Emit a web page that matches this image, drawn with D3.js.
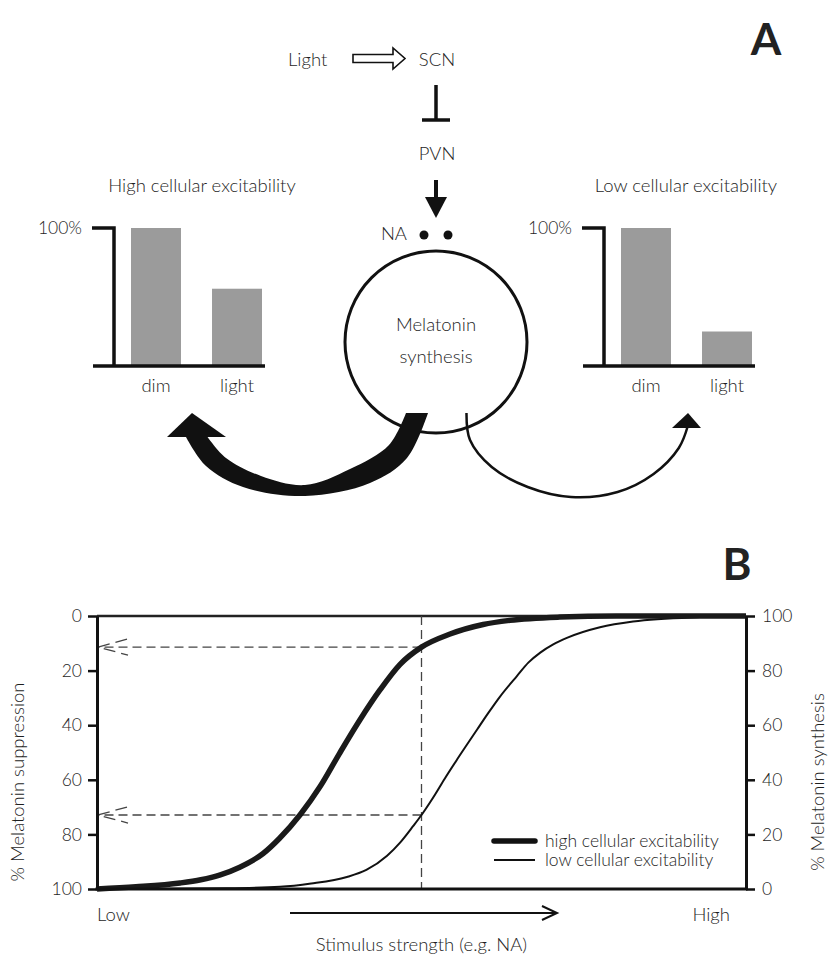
<!DOCTYPE html>
<html>
<head>
<meta charset="utf-8">
<script src="https://cdn.jsdelivr.net/npm/d3@7"></script>
<style>
  html, body { margin: 0; padding: 0; background: #fff; }
  svg { display: block; font-family: Lato, "Open Sans", sans-serif; font-weight: 300; }
  text { fill: #1e1e1e; }
</style>
</head>
<body>
<svg id="fig" width="830" height="960"></svg>
<script>
// ---- Panel A: relative melatonin synthesis in dim vs light ----
const barCategories = ["dim", "light"];
const highExcitabilityBars = [100, 56];
const lowExcitabilityBars = [100, 25];
const barTopLabel = "100%";

// ---- Panel B: dose-response curves (stimulus 0..100, synthesis %) ----
const highStimulus = [0, 6, 12.8, 16, 19, 22, 25.6, 28.1, 31.3, 34.4, 37.4, 40.5, 43.6, 46.7, 50, 54.4, 59.5, 63.6, 71.3, 80, 100];
const highSynthesis = [0, 0.8, 2.2, 3.4, 5.2, 8.0, 13.0, 18.5, 27.2, 37.6, 49.8, 61.9, 72.9, 82.3, 88.6, 93.4, 96.9, 98.4, 99.6, 100, 100];
const lowStimulus = [0, 20, 28.2, 33, 38.5, 41.5, 44.7, 46.7, 48.7, 50, 51.8, 53.6, 55.5, 58.6, 60.3, 62.1, 64.7, 66.5, 68.3, 70.3, 72.4, 77.5, 82.6, 92.9, 100];
const lowSynthesis = [0, 0.3, 0.8, 2.0, 4.4, 7.0, 12.2, 17.0, 23.0, 27.1, 33.5, 40.5, 47.5, 58.5, 64.5, 70.5, 78.0, 83.0, 86.6, 89.6, 92.0, 95.9, 98.0, 99.6, 100];
const percentTicks = [0, 20, 40, 60, 80, 100];
const markerStimulus = 50;
const legendLabels = ["high cellular excitability", "low cellular excitability"];

const svg = d3.select("#fig");
const ink = "#111";
const fs = "18.5px";

// ================= Panel A =================
svg.append("text").attr("x", 766).attr("y", 55).attr("text-anchor", "middle")
  .style("font-size", "44px").style("font-weight", 700).style("fill", "#222").text("A");

const cx = 436, cy = 342, r = 91;

// Light => SCN
svg.append("text").attr("x", 288).attr("y", 66).style("font-size", fs).text("Light");
svg.append("text").attr("x", 437).attr("y", 66).attr("text-anchor", "middle").style("font-size", fs).text("SCN");
const hollow = d3.path();
hollow.moveTo(353, 54.5); hollow.lineTo(393, 54.5); hollow.lineTo(393, 48);
hollow.lineTo(405, 58.5); hollow.lineTo(393, 69); hollow.lineTo(393, 62.5);
hollow.lineTo(353, 62.5); hollow.closePath();
svg.append("path").attr("d", hollow.toString()).attr("fill", "#fff")
  .attr("stroke", ink).attr("stroke-width", 1.6).attr("stroke-linejoin", "miter");

// SCN --| PVN
svg.append("line").attr("x1", cx).attr("x2", cx).attr("y1", 85).attr("y2", 120)
  .attr("stroke", ink).attr("stroke-width", 3.5);
svg.append("line").attr("x1", cx - 14).attr("x2", cx + 14).attr("y1", 120).attr("y2", 120)
  .attr("stroke", ink).attr("stroke-width", 3.5);
svg.append("text").attr("x", 437).attr("y", 160).attr("text-anchor", "middle").style("font-size", fs).text("PVN");

// PVN -> NA
svg.append("line").attr("x1", cx).attr("x2", cx).attr("y1", 180).attr("y2", 202)
  .attr("stroke", ink).attr("stroke-width", 4);
svg.append("path").attr("d", `M${cx - 11},197 L${cx + 11},197 L${cx},218 Z`).attr("fill", ink);
svg.append("text").attr("x", 407).attr("y", 240).attr("text-anchor", "end").style("font-size", fs).text("NA");
[cx - 12, cx + 12].forEach(x => svg.append("circle").attr("cx", x).attr("cy", 235).attr("r", 4.5).attr("fill", ink));

// Melatonin synthesis cell
svg.append("circle").attr("cx", cx).attr("cy", cy).attr("r", r)
  .attr("fill", "none").attr("stroke", ink).attr("stroke-width", 3);
svg.append("text").attr("x", cx).attr("y", 331).attr("text-anchor", "middle").style("font-size", fs).text("Melatonin");
svg.append("text").attr("x", cx).attr("y", 363).attr("text-anchor", "middle").style("font-size", fs).text("synthesis");

// small bar charts
function barChart(axisX, values, title, titleX) {
  const y = d3.scaleLinear().domain([0, 100]).range([366, 228]);
  const x = d3.scaleBand().domain(barCategories).range([axisX + 0.8, axisX + 164.2])
    .paddingInner(0.383).paddingOuter(0.2);
  const g = svg.append("g");
  g.selectAll("rect").data(values).join("rect")
    .attr("x", (d, i) => x(barCategories[i])).attr("width", x.bandwidth())
    .attr("y", d => y(d)).attr("height", d => y(0) - y(d)).attr("fill", "#9b9b9b");
  g.append("path").attr("d", `M${axisX - 22},${y(100)} H${axisX} V${y(0)}`)
    .attr("fill", "none").attr("stroke", ink).attr("stroke-width", 3.5);
  g.append("line").attr("x1", axisX - 21).attr("x2", x("light") + x.bandwidth() + 3)
    .attr("y1", y(0)).attr("y2", y(0)).attr("stroke", ink).attr("stroke-width", 3.5);
  g.append("text").attr("x", axisX - 32).attr("y", y(100)).attr("dy", "0.35em")
    .attr("text-anchor", "end").style("font-size", "17.5px").text(barTopLabel);
  g.selectAll("text.cat").data(barCategories).join("text").attr("class", "cat")
    .attr("x", d => x(d) + x.bandwidth() / 2).attr("y", 392).attr("text-anchor", "middle")
    .style("font-size", fs).text(d => d);
  g.append("text").attr("x", titleX).attr("y", 192).attr("text-anchor", "middle")
    .style("font-size", fs).text(title);
}
barChart(114, highExcitabilityBars, "High cellular excitability", 202);
barChart(604, lowExcitabilityBars, "Low cellular excitability", 686);

// feedback arrows below the cell: a tapering band to the left, a thin arc to the right
const crescentOuter = [[428, 413], [407, 458], [370, 483], [305, 496], [243, 487], [206, 466], [186, 437]];
const crescentInner = [[207.6, 437], [226, 458], [261, 476], [305, 485], [350, 469], [389, 445], [406, 413]];
const smooth = d3.line().curve(d3.curveCatmullRom.alpha(0.5));
svg.append("path")
  .attr("d", smooth(crescentOuter) + smooth(crescentInner).replace(/^M/, "L") + "Z")
  .attr("fill", ink);
svg.append("path").attr("d", "M167,437 L226,437 L192,413 Z").attr("fill", ink);

const thinArc = [[466.5, 413], [470, 440], [491.7, 467], [527.7, 487], [571, 497], [617.6, 492], [653.6, 474], [678.8, 448], [687.8, 426]];
svg.append("path").attr("d", smooth(thinArc)).attr("fill", "none")
  .attr("stroke", ink).attr("stroke-width", 2.5);
svg.append("path").attr("d", "M672,428 L701,428 L688,413 Z").attr("fill", ink);

// ================= Panel B =================
svg.append("text").attr("x", 737).attr("y", 580).attr("text-anchor", "middle")
  .style("font-size", "44px").style("font-weight", 700).style("fill", "#222").text("B");

const x = d3.scaleLinear().domain([0, 100]).range([97, 746]);
const ySupp = d3.scaleLinear().domain([0, 100]).range([616, 889]);
const ySynth = d3.scaleLinear().domain([0, 100]).range([889, 616]);

const gB = svg.append("g");
gB.append("line").attr("x1", x(0)).attr("x2", x(100)).attr("y1", ySynth(100)).attr("y2", ySynth(100))
  .attr("stroke", "#222").attr("stroke-width", 2.5);

// dashed read-out lines
const highAtMarker = highSynthesis[highStimulus.indexOf(markerStimulus)];
const lowAtMarker = lowSynthesis[lowStimulus.indexOf(markerStimulus)];
const dash = "9,5";
gB.append("line").attr("x1", x(markerStimulus)).attr("x2", x(markerStimulus))
  .attr("y1", ySynth(100)).attr("y2", ySynth(0))
  .attr("stroke", "#444").attr("stroke-width", 1.3).attr("stroke-dasharray", dash);
[highAtMarker, lowAtMarker].forEach(v => {
  const yy = ySynth(v);
  gB.append("line").attr("x1", x(markerStimulus)).attr("x2", x(0) + 1)
    .attr("y1", yy).attr("y2", yy)
    .attr("stroke", "#444").attr("stroke-width", 1.3).attr("stroke-dasharray", dash);
  gB.append("path").attr("d", `M${x(0) + 30},${yy - 8} L${x(0) + 1},${yy} L${x(0) + 31},${yy + 8}`)
    .attr("fill", "none").attr("stroke", "#444").attr("stroke-width", 1.3).attr("stroke-dasharray", "12,6");
});

// curves
const curveLine = d3.line().x(d => x(d[0])).y(d => ySynth(d[1])).curve(d3.curveMonotoneX);
gB.append("path").attr("d", curveLine(d3.zip(lowStimulus, lowSynthesis)))
  .attr("fill", "none").attr("stroke", ink).attr("stroke-width", 2);
gB.append("path").attr("d", curveLine(d3.zip(highStimulus, highSynthesis)))
  .attr("fill", "none").attr("stroke", "#1a1a1a").attr("stroke-width", 5.5);

// axes
function styleAxis(g) {
  g.select(".domain").attr("stroke", ink).attr("stroke-width", 3);
  g.selectAll(".tick line").attr("stroke", ink).attr("stroke-width", 2.5);
  g.selectAll(".tick text").style("font-size", "17.5px").style("font-family", "Lato, sans-serif")
    .style("font-weight", 300).attr("fill", "#1e1e1e");
}
gB.append("g").attr("transform", `translate(${x(0)},0)`)
  .call(d3.axisLeft(ySupp).tickValues(percentTicks).tickSize(9).tickSizeOuter(0).tickPadding(6))
  .call(styleAxis);
gB.append("g").attr("transform", `translate(${x(100)},0)`)
  .call(d3.axisRight(ySynth).tickValues(percentTicks).tickSize(9).tickSizeOuter(0).tickPadding(7))
  .call(styleAxis);
gB.append("line").attr("x1", x(0) - 1.5).attr("x2", x(100) + 1.5).attr("y1", ySynth(0)).attr("y2", ySynth(0))
  .attr("stroke", ink).attr("stroke-width", 3);

// axis titles
svg.append("text").attr("transform", "translate(24,782) rotate(-90)").attr("text-anchor", "middle")
  .style("font-size", fs).text("% Melatonin suppression");
svg.append("text").attr("transform", "translate(824,782) rotate(-90)").attr("text-anchor", "middle")
  .style("font-size", fs).text("% Melatonin synthesis");

svg.append("text").attr("x", x(0)).attr("y", 921).style("font-size", fs).text("Low");
svg.append("text").attr("x", 730).attr("y", 921).attr("text-anchor", "end").style("font-size", fs).text("High");
svg.append("line").attr("x1", 290).attr("x2", 556).attr("y1", 913).attr("y2", 913)
  .attr("stroke", ink).attr("stroke-width", 2);
svg.append("path").attr("d", "M542,906 L557,913 L542,920").attr("fill", "none")
  .attr("stroke", ink).attr("stroke-width", 2);
svg.append("text").attr("x", x(markerStimulus)).attr("y", 951).attr("text-anchor", "middle")
  .style("font-size", fs).text("Stimulus strength (e.g. NA)");

// legend
const legend = svg.append("g");
legendLabels.forEach((label, i) => {
  const yy = 841 + i * 19;
  legend.append("line").attr("x1", 494).attr("x2", 535).attr("y1", yy).attr("y2", yy)
    .attr("stroke", ink).attr("stroke-width", i === 0 ? 5.5 : 2).attr("stroke-linecap", i === 0 ? "round" : "butt");
  legend.append("text").attr("x", 545).attr("y", yy).attr("dy", "0.32em")
    .style("font-size", "17.5px").text(label);
});
</script>
</body>
</html>
